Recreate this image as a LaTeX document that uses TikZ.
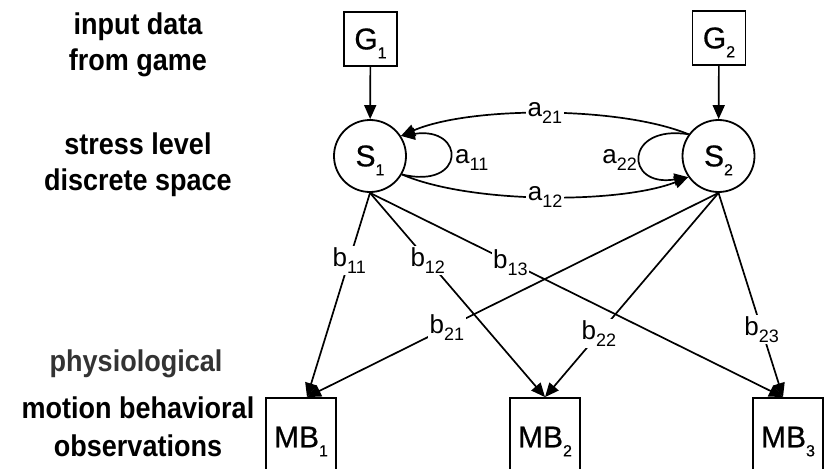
\documentclass[tikz,border=0pt]{standalone}
\usepackage{fontspec}
\setmainfont{Liberation Sans}
\newfontfamily\sidefont[FakeStretch=0.9]{Liberation Sans Bold}
\newfontfamily\nodefont[FakeBold=0.6]{Liberation Sans}
\usetikzlibrary{arrows.meta}
\newcommand\sbn[1]{\raisebox{-9pt}[0pt][0pt]{\fontsize{16}{16}\selectfont #1}}
\newcommand\sbe[1]{\raisebox{-7pt}{\fontsize{18}{18}\selectfont #1}}
\begin{document}
\begin{tikzpicture}[x=1pt,y=-1pt,
  box/.style={draw,line width=1.8pt,rectangle,inner sep=0pt,font=\nodefont\fontsize{30}{32}\selectfont},
  state/.style={draw,line width=1.8pt,circle,inner sep=0pt,minimum size=72pt,font=\nodefont\fontsize{30}{32}\selectfont},
  arr/.style={line width=1.7pt,-{Triangle[length=14pt,width=12pt]}},
  lbl/.style={fill=white,inner sep=1.5pt,font=\fontsize{26}{28}\selectfont},
  side/.style={anchor=base,inner sep=0pt,font=\sidefont\fontsize{30}{32}\selectfont}]
\clip (0,0) rectangle (829,468);
\fill[white] (0,0) rectangle (829,468);
% left texts
\node[side] (t1) at (138,35) {input data};
\node[side] (t2) at (138,71) {from game};
\node[side] (t3) at (138,154) {stress level};
\node[side] (t4) at (138,190) {discrete space};
\node[side,text=black!80] (t5) at (136,371) {physiological};
\node[side] (t6) at (138,418) {motion behavioral};
\node[side] (t7) at (138,456) {observations};
% nodes
\node[box,minimum width=53pt,minimum height=54pt] (G1) at (370.5,39) {G\sbn{1}};
\node[box,minimum width=53pt,minimum height=54pt] (G2) at (719,38) {G\sbn{2}};
\node[state] (S1) at (370,156) {S\sbn{1}};
\node[state] (S2) at (718.5,156) {S\sbn{2}};
\node[box,minimum width=70pt,minimum height=78pt] (MB1) at (301,437) {MB\sbn{1}};
\node[box,minimum width=70pt,minimum height=78pt] (MB2) at (545,437) {MB\sbn{2}};
\node[box,minimum width=70pt,minimum height=78pt] (MB3) at (788,437) {MB\sbn{3}};
% inputs
\draw[arr] (G1) -- (S1);
\draw[arr] (G2) -- (S2);
% transitions
\draw[arr] (S2.144) .. controls (620,106) and (470,106) .. node[lbl]{a\sbe{21}} (S1.33);
\draw[arr] (S1.-30) .. controls (470,204) and (620,204) .. node[lbl]{a\sbe{12}} (S2.215);
\draw[arr] (S1.-30) .. controls (466,190) and (466,126) .. (S1.33);
\draw[arr] (S2.144) .. controls (624,124) and (624,188) .. (S2.215);
\node[anchor=west,inner sep=1pt,font=\fontsize{26}{28}\selectfont] (la11) at (454,160) {a\sbe{11}};
\node[anchor=east,inner sep=1pt,font=\fontsize{26}{28}\selectfont] (la22) at (638,160) {a\sbe{22}};
% emissions
\draw[arr] (S1.south) -- node[lbl,pos=.33]{b\sbe{11}} ([xshift=6pt]MB1.north);
\draw[arr] (S1.south) -- node[lbl,pos=.33]{b\sbe{12}} (MB2.north);
\draw[arr] (S1.south) -- node[lbl,pos=.34]{b\sbe{13}} ([xshift=-5pt]MB3.north);
\draw[arr] (S2.south) -- node[lbl,pos=.66]{b\sbe{21}} ([xshift=6pt]MB1.north);
\draw[arr] (S2.south) -- node[lbl,pos=.69]{b\sbe{22}} (MB2.north);
\draw[arr] (S2.south) -- node[lbl,pos=.67]{b\sbe{23}} ([xshift=-5pt]MB3.north);
\end{tikzpicture}
\end{document}
